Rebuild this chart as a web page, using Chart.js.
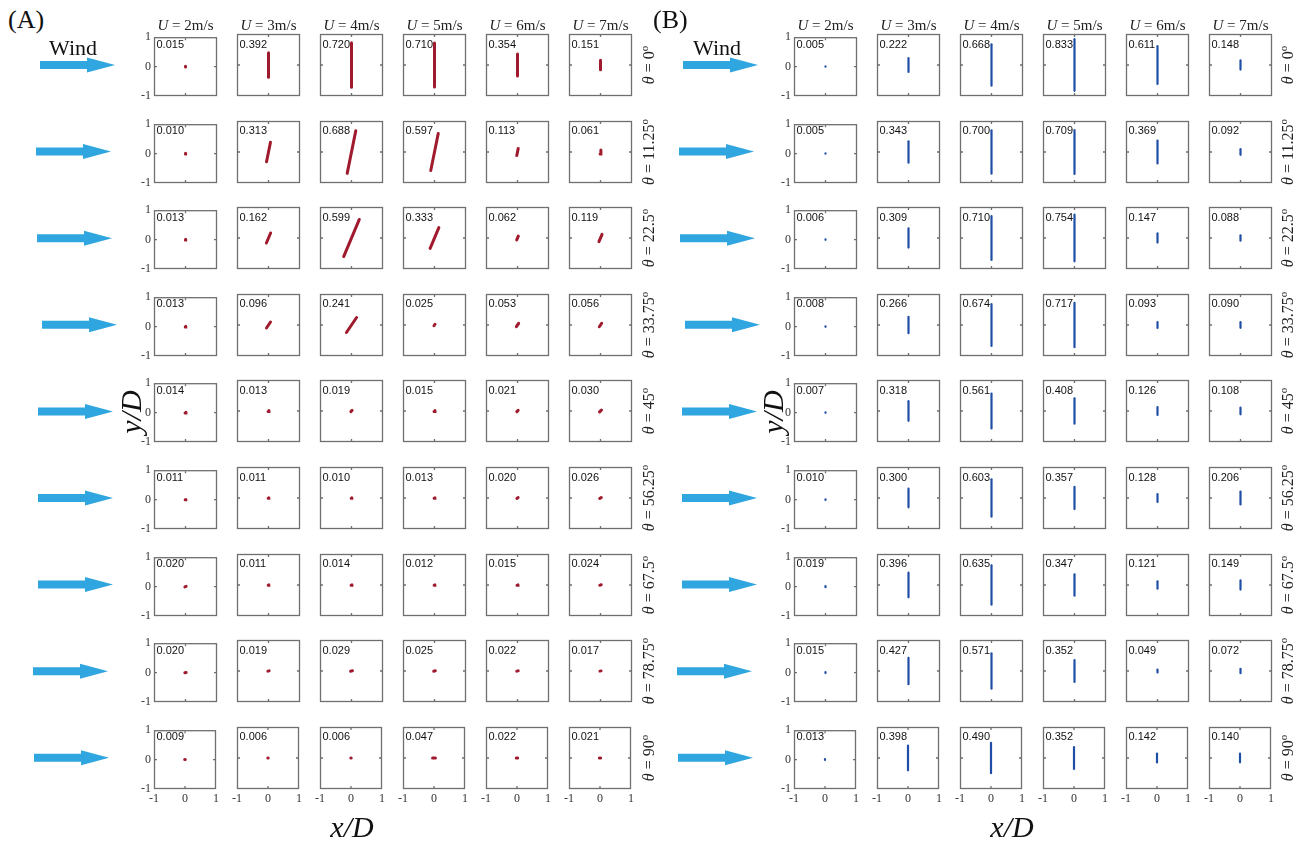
<!DOCTYPE html>
<html>
<head>
<meta charset="utf-8">
<script src="https://cdn.jsdelivr.net/npm/chart.js@4.4.1/dist/chart.umd.min.js"></script>
<style>
  html, body { margin: 0; padding: 0; background: #fff; }
  body { width: 1303px; height: 841px; overflow: hidden; position: relative;
         font-family: "Liberation Serif", "Times New Roman", serif; color: #111; }
  canvas.cell { position: absolute; }
  .val { position: absolute; font-family: "Liberation Sans", Arial, sans-serif;
         font-size: 11px; line-height: 11px; color: #111; white-space: nowrap; }
  .hdr { position: absolute; font-size: 15px; line-height: 15px; white-space: nowrap;
         transform: translateX(-50%); color: #222; }
  .rot { position: absolute; white-space: nowrap; transform: translate(-50%, -50%) rotate(-90deg); }
  .ctr { position: absolute; white-space: nowrap; transform: translate(-50%, -50%); }
  .theta { font-size: 16px; line-height: 16px; color: #222; }
  .theta sup { font-size: 11px; vertical-align: 6px; line-height: 0; }
  .big { font-size: 30px; line-height: 30px; font-style: italic; }
  .panel { position: absolute; font-size: 26px; line-height: 26px; }
  .wind { position: absolute; font-size: 22px; line-height: 22px; }
  svg.arrows { position: absolute; left: 0; top: 0; }
</style>
</head>
<body>
<svg class="arrows" id="arrows" width="1303" height="841"></svg>
<script>
// ---- categories and tick labels ----
const speeds = ['2', '3', '4', '5', '6', '7'];                 // U (m/s)
const angles = [0, 11.25, 22.5, 33.75, 45, 56.25, 67.5, 78.75, 90];
const angleLabels = ['0', '11.25', '22.5', '33.75', '45', '56.25', '67.5', '78.75', '90'];
const tickLabels = ['-1', '0', '1'];

// ---- (A) response amplitudes, one array per wind angle, columns U = 2..7 m/s ----
const ampA0     = [0.015, 0.392, 0.720, 0.710, 0.354, 0.151];
const ampA1125  = [0.010, 0.313, 0.688, 0.597, 0.113, 0.061];
const ampA225   = [0.013, 0.162, 0.599, 0.333, 0.062, 0.119];
const ampA3375  = [0.013, 0.096, 0.241, 0.025, 0.053, 0.056];
const ampA45    = [0.014, 0.013, 0.019, 0.015, 0.021, 0.030];
const ampA5625  = [0.011, 0.011, 0.010, 0.013, 0.020, 0.026];
const ampA675   = [0.020, 0.011, 0.014, 0.012, 0.015, 0.024];
const ampA7875  = [0.020, 0.019, 0.029, 0.025, 0.022, 0.017];
const ampA90    = [0.009, 0.006, 0.006, 0.047, 0.022, 0.021];

// ---- (B) response amplitudes ----
const ampB0     = [0.005, 0.222, 0.668, 0.833, 0.611, 0.148];
const ampB1125  = [0.005, 0.343, 0.700, 0.709, 0.369, 0.092];
const ampB225   = [0.006, 0.309, 0.710, 0.754, 0.147, 0.088];
const ampB3375  = [0.008, 0.266, 0.674, 0.717, 0.093, 0.090];
const ampB45    = [0.007, 0.318, 0.561, 0.408, 0.126, 0.108];
const ampB5625  = [0.010, 0.300, 0.603, 0.357, 0.128, 0.206];
const ampB675   = [0.019, 0.396, 0.635, 0.347, 0.121, 0.149];
const ampB7875  = [0.015, 0.427, 0.571, 0.352, 0.049, 0.072];
const ampB90    = [0.013, 0.398, 0.490, 0.352, 0.142, 0.140];

const rowsA = [ampA0, ampA1125, ampA225, ampA3375, ampA45, ampA5625, ampA675, ampA7875, ampA90];
const rowsB = [ampB0, ampB1125, ampB225, ampB3375, ampB45, ampB5625, ampB675, ampB7875, ampB90];

// ---- layout ----
const BOX_W = 63, BOX_H = 62;          // plot frame
const AX_W = 18, AX_H = 18;            // reserved for tick labels
const PAD_T = 7, PAD_R = 5;
const COL_STEP = 83, ROW_STEP = 86.6, TOP0 = 34;
const panels = [
  { rows: rowsA, left: 154, color: '#a01a2d', width: 3.0, tilted: true,
    arrowX: [40, 36, 37, 42, 38, 38, 38, 33, 34], thetaX: 649, label: '(A)', labelX: 8,
    windX: 49, yLabelX: 131, xLabelX: 352 },
  { rows: rowsB, left: 794, color: '#1f4ea6', width: 2.2, tilted: false,
    arrowX: [683, 679, 680, 685, 682, 682, 682, 677, 678], thetaX: 1288, label: '(B)', labelX: 653,
    windX: 693, yLabelX: 773, xLabelX: 1012 }
];

// Trajectory segment centred on the origin; the stated amplitude is the larger
// displacement component, and the segment leans with the wind angle in (A).
function segment(value, tiltDeg) {
  const t = tiltDeg * Math.PI / 180;
  let dx, dy;
  if (tiltDeg <= 45) { dy = value; dx = value * Math.tan(t); }
  else { dx = value; dy = value / Math.tan(t); }
  return [{ x: -dx, y: -dy }, { x: dx, y: dy }];
}

const framePlugin = {
  id: 'frame',
  afterDraw(chart) {
    const { ctx, chartArea: a } = chart;
    ctx.save();
    ctx.strokeStyle = '#6f6f6f';
    ctx.lineWidth = 1.3;
    ctx.strokeRect(a.left + 0.5, a.top + 0.5, a.right - a.left - 1, a.bottom - a.top - 1);
    // short inward ticks at the origin lines
    const x0 = chart.scales.x.getPixelForValue(0);
    const y0 = chart.scales.y.getPixelForValue(0);
    ctx.beginPath();
    ctx.moveTo(a.right - 1, y0); ctx.lineTo(a.right - 3, y0);
    ctx.moveTo(a.left + 1, y0); ctx.lineTo(a.left + 3, y0);
    ctx.moveTo(x0, a.bottom - 1); ctx.lineTo(x0, a.bottom - 3);
    ctx.moveTo(x0, a.top + 1); ctx.lineTo(x0, a.top + 3);
    ctx.stroke();
    ctx.restore();
  }
};

function addDiv(cls, html, left, top) {
  const d = document.createElement('div');
  d.className = cls;
  d.innerHTML = html;
  d.style.left = left + 'px';
  d.style.top = top + 'px';
  document.body.appendChild(d);
  return d;
}

function makeCell(p, r, c) {
  const value = p.rows[r][c];
  const boxLeft = p.left + c * COL_STEP;
  const boxTop = TOP0 + r * ROW_STEP;
  const cv = document.createElement('canvas');
  cv.className = 'cell';
  cv.width = AX_W + BOX_W + PAD_R;
  cv.height = PAD_T + BOX_H + AX_H;
  cv.style.left = (boxLeft - AX_W) + 'px';
  cv.style.top = (boxTop - PAD_T) + 'px';
  document.body.appendChild(cv);

  const showX = r === angles.length - 1;
  const showY = c === 0;
  const tickFont = { family: '"Liberation Serif", "Times New Roman", serif', size: 12 };

  new Chart(cv, {
    type: 'scatter',
    data: {
      datasets: [{
        data: segment(value, p.tilted ? angles[r] : 0),
        showLine: true,
        borderColor: p.color,
        backgroundColor: p.color,
        borderWidth: p.width,
        borderCapStyle: 'round',
        pointRadius: 0,
        pointHoverRadius: 0
      }]
    },
    options: {
      responsive: false,
      animation: false,
      events: [],
      devicePixelRatio: 1,
      layout: { padding: { top: PAD_T, right: PAD_R, left: 0, bottom: 0 } },
      plugins: { legend: { display: false }, tooltip: { enabled: false } },
      scales: {
        x: {
          type: 'linear', min: -1, max: 1,
          grid: { display: false, drawTicks: false }, border: { display: false },
          ticks: { display: showX, stepSize: 1, padding: 3, color: '#333', font: tickFont,
                   maxRotation: 0, autoSkip: false,
                   callback: v => tickLabels[Math.round(v) + 1] },
          afterFit: s => { s.height = AX_H; }
        },
        y: {
          type: 'linear', min: -1, max: 1,
          grid: { display: false, drawTicks: false }, border: { display: false },
          ticks: { display: showY, stepSize: 1, padding: 3, color: '#333', font: tickFont,
                   autoSkip: false,
                   callback: v => tickLabels[Math.round(v) + 1] },
          afterFit: s => { s.width = AX_W; }
        }
      }
    },
    plugins: [framePlugin]
  });

  addDiv('val', value.toFixed(3), boxLeft + 2.5, boxTop + 4.5);
}

const svg = document.getElementById('arrows');
function addArrow(x0, yc) {
  const pts = [
    [x0, yc - 4], [x0 + 47, yc - 4], [x0 + 47, yc - 7.5], [x0 + 75, yc],
    [x0 + 47, yc + 7.5], [x0 + 47, yc + 4], [x0, yc + 4]
  ].map(q => q.join(',')).join(' ');
  const poly = document.createElementNS('http://www.w3.org/2000/svg', 'polygon');
  poly.setAttribute('points', pts);
  poly.setAttribute('fill', '#2fa6df');
  svg.appendChild(poly);
}

panels.forEach(p => {
  for (let r = 0; r < angles.length; r++) {
    for (let c = 0; c < speeds.length; c++) makeCell(p, r, c);
    const yc = TOP0 + r * ROW_STEP + BOX_H / 2;
    addArrow(p.arrowX[r], yc);
    addDiv('rot theta', '<i>θ</i> = ' + angleLabels[r] + '<sup>o</sup>', p.thetaX, yc);
  }
  speeds.forEach((u, c) => {
    addDiv('hdr', '<i>U</i> = ' + u + 'm/s', p.left + c * COL_STEP + BOX_W / 2, 17.5);
  });
  addDiv('panel', p.label, p.labelX, 7);
  addDiv('wind', 'Wind', p.windX, 36.5);
  addDiv('rot big', '<i>y</i>/<i>D</i>', p.yLabelX, 412);
  addDiv('ctr big', '<i>x</i>/<i>D</i>', p.xLabelX, 827);
});
</script>
</body>
</html>
